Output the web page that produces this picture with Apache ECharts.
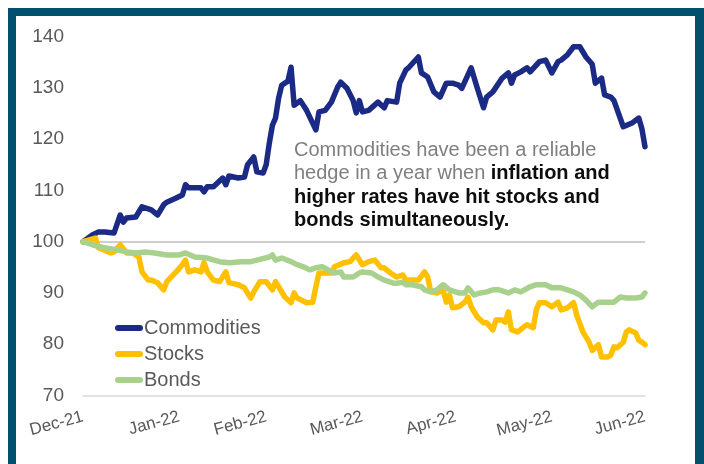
<!DOCTYPE html>
<html>
<head>
<meta charset="utf-8">
<script src="https://cdn.jsdelivr.net/npm/echarts@6/dist/echarts.min.js"></script>
<style>
  html, body { margin: 0; padding: 0; background: #ffffff; }
  #chart { width: 704px; height: 464px; }
</style>
</head>
<body>
<div id="chart"></div>
<script>
// Month-end ticks on the date axis and their labels
const monthEnds = ['2021-12-31', '2022-01-31', '2022-02-28', '2022-03-31', '2022-04-30', '2022-05-31', '2022-06-30'];
const monthLabels = ['Dec-21', 'Jan-22', 'Feb-22', 'Mar-22', 'Apr-22', 'May-22', 'Jun-22'];

const seriesNames = ['Commodities', 'Stocks', 'Bonds'];

// Commodities index (31 Dec 2021 = 100)
const commoditiesDates = [
  '2021-12-31', '2022-01-03', '2022-01-05', '2022-01-07', '2022-01-10', '2022-01-12', '2022-01-13', '2022-01-14',
  '2022-01-17', '2022-01-19', '2022-01-22', '2022-01-24', '2022-01-26', '2022-01-27', '2022-01-30', '2022-02-01',
  '2022-02-02', '2022-02-03', '2022-02-07', '2022-02-08', '2022-02-09', '2022-02-11', '2022-02-14', '2022-02-15',
  '2022-02-16', '2022-02-19', '2022-02-21', '2022-02-22', '2022-02-24', '2022-02-25', '2022-02-27', '2022-02-28',
  '2022-03-01', '2022-03-02', '2022-03-03', '2022-03-04', '2022-03-05', '2022-03-07', '2022-03-08', '2022-03-09',
  '2022-03-11', '2022-03-13', '2022-03-16', '2022-03-17', '2022-03-19', '2022-03-21', '2022-03-23', '2022-03-24',
  '2022-03-26', '2022-03-28', '2022-03-29', '2022-03-30', '2022-03-31', '2022-04-02', '2022-04-05', '2022-04-07',
  '2022-04-08', '2022-04-11', '2022-04-12', '2022-04-14', '2022-04-15', '2022-04-18', '2022-04-19', '2022-04-21',
  '2022-04-23', '2022-04-25', '2022-04-27', '2022-04-29', '2022-05-01', '2022-05-02', '2022-05-05', '2022-05-07',
  '2022-05-09', '2022-05-10', '2022-05-12', '2022-05-15', '2022-05-17', '2022-05-18', '2022-05-19', '2022-05-21',
  '2022-05-23', '2022-05-24', '2022-05-27', '2022-05-29', '2022-05-31', '2022-06-02', '2022-06-03', '2022-06-05',
  '2022-06-07', '2022-06-09', '2022-06-11', '2022-06-13', '2022-06-14', '2022-06-16', '2022-06-17', '2022-06-19',
  '2022-06-20', '2022-06-23', '2022-06-26', '2022-06-28', '2022-06-29', '2022-06-30'
];
const commoditiesValues = [
  100.0, 101.3, 101.9, 101.9, 101.7, 105.2, 103.8, 104.6,
  104.8, 106.8, 106.2, 105.2, 107.2, 107.7, 108.5, 109.1,
  111.1, 110.5, 110.5, 109.7, 110.7, 110.7, 112.4, 111.1,
  112.8, 112.4, 112.6, 115.0, 116.5, 113.6, 113.4, 115.0,
  119.2, 122.7, 124.1, 128.0, 130.5, 131.3, 134.0, 126.6,
  127.5, 125.6, 121.8, 125.3, 125.6, 127.2, 130.1, 131.1,
  129.9, 127.5, 125.1, 127.5, 125.3, 125.6, 127.2, 126.1,
  127.5, 127.2, 130.9, 133.5, 134.0, 136.0, 132.9, 132.1,
  129.2, 128.2, 130.9, 130.9, 130.5, 129.9, 133.9, 129.9,
  126.1, 128.2, 129.2, 131.9, 132.9, 130.9, 132.5, 133.1,
  133.9, 133.1, 135.1, 135.4, 132.9, 135.1, 135.4, 136.4,
  138.0, 138.0, 136.0, 134.6, 130.9, 131.9, 128.6, 128.2,
  127.5, 122.4, 123.2, 124.1, 122.0, 118.5
];

// Stocks index (31 Dec 2021 = 100)
const stocksDates = [
  '2021-12-31', '2022-01-04', '2022-01-05', '2022-01-09', '2022-01-10', '2022-01-12', '2022-01-14', '2022-01-16',
  '2022-01-18', '2022-01-19', '2022-01-21', '2022-01-22', '2022-01-24', '2022-01-26', '2022-01-27', '2022-01-30',
  '2022-02-01', '2022-02-02', '2022-02-03', '2022-02-05', '2022-02-07', '2022-02-08', '2022-02-09', '2022-02-11',
  '2022-02-13', '2022-02-15', '2022-02-16', '2022-02-19', '2022-02-21', '2022-02-23', '2022-02-24', '2022-02-26',
  '2022-02-28', '2022-03-02', '2022-03-03', '2022-03-04', '2022-03-06', '2022-03-08', '2022-03-09', '2022-03-10',
  '2022-03-13', '2022-03-15', '2022-03-16', '2022-03-17', '2022-03-19', '2022-03-21', '2022-03-22', '2022-03-25',
  '2022-03-27', '2022-03-29', '2022-03-31', '2022-04-02', '2022-04-04', '2022-04-06', '2022-04-07', '2022-04-09',
  '2022-04-11', '2022-04-13', '2022-04-14', '2022-04-16', '2022-04-18', '2022-04-20', '2022-04-21', '2022-04-22',
  '2022-04-24', '2022-04-26', '2022-04-27', '2022-04-28', '2022-04-29', '2022-05-01', '2022-05-03', '2022-05-04',
  '2022-05-05', '2022-05-07', '2022-05-09', '2022-05-10', '2022-05-12', '2022-05-13', '2022-05-15', '2022-05-16',
  '2022-05-17', '2022-05-18', '2022-05-20', '2022-05-22', '2022-05-23', '2022-05-25', '2022-05-26', '2022-05-27',
  '2022-05-29', '2022-05-31', '2022-06-02', '2022-06-03', '2022-06-05', '2022-06-07', '2022-06-08', '2022-06-10',
  '2022-06-12', '2022-06-13', '2022-06-15', '2022-06-16', '2022-06-18', '2022-06-19', '2022-06-20', '2022-06-21',
  '2022-06-23', '2022-06-24', '2022-06-25', '2022-06-27', '2022-06-28', '2022-06-29', '2022-06-30'
];
const stocksValues = [
  100.0, 100.7, 98.8, 97.8, 98.0, 99.4, 97.8, 97.8,
  97.0, 94.1, 92.5, 92.5, 92.0, 90.6, 92.2, 94.1,
  95.5, 96.4, 94.1, 94.5, 94.1, 95.9, 94.1, 92.5,
  92.2, 94.1, 92.0, 91.6, 91.0, 89.0, 90.2, 92.2,
  92.2, 90.6, 92.2, 91.2, 89.2, 88.1, 90.0, 89.0,
  88.1, 88.2, 91.2, 93.9, 93.9, 93.9, 95.1, 95.9,
  96.1, 97.4, 95.5, 96.1, 96.4, 94.9, 94.9, 93.9,
  93.1, 93.5, 92.5, 92.5, 92.5, 94.1, 93.1, 90.2,
  90.0, 90.6, 88.2, 89.6, 87.1, 87.3, 88.2, 89.2,
  87.3, 85.3, 84.2, 84.2, 82.8, 84.7, 84.7, 84.3,
  86.3, 82.8, 82.4, 83.4, 83.8, 83.2, 86.7, 88.1,
  88.1, 87.3, 88.2, 86.7, 87.1, 88.1, 85.7, 82.4,
  80.4, 78.8, 79.9, 77.5, 77.5, 77.9, 79.5, 79.3,
  80.4, 82.4, 82.8, 82.2, 80.8, 80.4, 79.9
];

// Bonds index (31 Dec 2021 = 100)
const bondsDates = [
  '2021-12-31', '2022-01-03', '2022-01-07', '2022-01-11', '2022-01-14', '2022-01-17', '2022-01-20', '2022-01-23',
  '2022-01-27', '2022-01-31', '2022-02-02', '2022-02-05', '2022-02-09', '2022-02-13', '2022-02-16', '2022-02-20',
  '2022-02-23', '2022-02-25', '2022-03-01', '2022-03-02', '2022-03-03', '2022-03-05', '2022-03-08', '2022-03-10',
  '2022-03-12', '2022-03-14', '2022-03-16', '2022-03-18', '2022-03-20', '2022-03-22', '2022-03-24', '2022-03-25',
  '2022-03-28', '2022-03-30', '2022-03-31', '2022-04-03', '2022-04-05', '2022-04-07', '2022-04-10', '2022-04-11',
  '2022-04-13', '2022-04-14', '2022-04-16', '2022-04-19', '2022-04-20', '2022-04-22', '2022-04-24', '2022-04-26',
  '2022-04-28', '2022-05-01', '2022-05-03', '2022-05-04', '2022-05-06', '2022-05-08', '2022-05-10', '2022-05-12',
  '2022-05-14', '2022-05-17', '2022-05-19', '2022-05-21', '2022-05-24', '2022-05-26', '2022-05-29', '2022-05-31',
  '2022-06-03', '2022-06-05', '2022-06-07', '2022-06-09', '2022-06-11', '2022-06-13', '2022-06-15', '2022-06-18',
  '2022-06-20', '2022-06-22', '2022-06-24', '2022-06-27', '2022-06-29', '2022-06-30'
];
const bondsValues = [
  100.0, 99.4, 98.8, 98.4, 98.0, 97.8, 98.0, 97.8,
  97.4, 97.4, 97.8, 97.0, 96.8, 96.1, 95.9, 96.1,
  96.1, 96.4, 97.0, 97.4, 96.4, 96.8, 96.1, 95.5,
  95.1, 94.5, 94.9, 95.1, 94.5, 93.9, 94.1, 93.1,
  93.1, 93.9, 94.1, 93.9, 93.1, 92.5, 91.9, 91.9,
  92.1, 91.6, 91.6, 91.2, 90.6, 90.2, 90.6, 91.6,
  90.6, 90.0, 90.0, 91.0, 89.6, 90.0, 90.2, 90.6,
  90.6, 90.0, 90.6, 90.2, 91.2, 91.6, 91.6, 91.0,
  91.0, 90.6, 90.2, 89.6, 88.6, 87.3, 88.2, 88.2,
  88.2, 89.2, 89.0, 89.0, 89.2, 90.0
];

const seriesColors = ['#1b2a84', '#ffc000', '#a9d18e'];
const frameColor = '#02506e';
const labelColor = '#595959';
const fontFamily = '"Liberation Sans", Arial, Helvetica, sans-serif';

// Dates are placed on a numeric axis as UTC timestamps
const toTime = s => Date.parse(s + 'T00:00:00Z');
const zip = (dates, values) => dates.map((d, i) => [toTime(d), values[i]]);
const monthTs = monthEnds.map(toTime);

const chart = echarts.init(document.getElementById('chart'), null, { renderer: 'canvas' });

const lineSeries = (name, dates, values, color, extra) => Object.assign({
  name: name,
  type: 'line',
  data: zip(dates, values),
  showSymbol: false,
  symbol: 'none',
  smooth: false,
  z: 3,
  color: color,
  lineStyle: { color: color, width: 5.5, cap: 'round', join: 'round' },
  emphasis: { disabled: true }
}, extra || {});

chart.setOption({
  animation: false,
  backgroundColor: '#ffffff',
  textStyle: { fontFamily: fontFamily },
  grid: { left: 83, top: 36.5, width: 562, height: 359, containLabel: false },
  xAxis: {
    type: 'value',
    min: monthTs[0],
    max: monthTs[monthTs.length - 1],
    axisLine: { show: true, lineStyle: { color: '#d9d9d9', width: 1.5 } },
    axisTick: { show: false },
    splitLine: { show: false },
    axisLabel: {
      customValues: monthTs,
      rotate: 15,
      margin: 21,
      fontSize: 17,
      color: labelColor,
      fontFamily: fontFamily,
      hideOverlap: false,
      formatter: function (value) {
        const i = monthTs.findIndex(t => Math.abs(t - value) < 43200000);
        return i >= 0 ? monthLabels[i] : '';
      }
    }
  },
  yAxis: {
    type: 'value',
    min: 70,
    max: 140,
    interval: 10,
    axisLine: { show: false },
    axisTick: { show: false },
    splitLine: { show: false },
    axisLabel: { fontSize: 19, color: labelColor, margin: 19, fontFamily: fontFamily }
  },
  legend: {
    data: seriesNames,
    orient: 'vertical',
    left: 110,
    top: 313,
    itemGap: 6,
    itemWidth: 28,
    itemHeight: 6,
    icon: 'path://M3,0H25A3,3,0,0,1,25,6H3A3,3,0,0,1,3,0Z',
    selectedMode: false,
    textStyle: { fontSize: 20, color: labelColor, fontFamily: fontFamily, padding: [0, 0, 0, -4] }
  },
  graphic: [
    { type: 'rect', left: 8, top: 8, shape: { width: 8, height: 456 }, style: { fill: frameColor }, silent: true },
    { type: 'rect', left: 8, top: 8, shape: { width: 696, height: 8 }, style: { fill: frameColor }, silent: true },
    { type: 'rect', left: 695, top: 8, shape: { width: 9, height: 456 }, style: { fill: frameColor }, silent: true },
    {
      type: 'text',
      left: 294,
      top: 140.5,
      silent: true,
      style: {
        text: '{g|Commodities have been a reliable}\n{g|hedge in a year when }{b|inflation and}\n{b|higher rates have hit stocks and}\n{b|bonds simultaneously.}',
        rich: {
          g: { fontSize: 20, lineHeight: 23.3, fill: '#7f7f7f', fontFamily: fontFamily },
          b: { fontSize: 20, lineHeight: 23.3, fill: '#0d0d0d', fontWeight: 'bold', fontFamily: fontFamily }
        }
      }
    }
  ],
  series: [
    lineSeries(seriesNames[0], commoditiesDates, commoditiesValues, seriesColors[0], {
      markLine: {
        silent: true,
        z: 1,
        symbol: ['none', 'none'],
        label: { show: false },
        lineStyle: { color: '#bfbfbf', width: 1.5, type: 'solid' },
        emphasis: { disabled: true },
        data: [{ yAxis: 100 }]
      }
    }),
    lineSeries(seriesNames[1], stocksDates, stocksValues, seriesColors[1]),
    lineSeries(seriesNames[2], bondsDates, bondsValues, seriesColors[2])
  ]
});
</script>
</body>
</html>
